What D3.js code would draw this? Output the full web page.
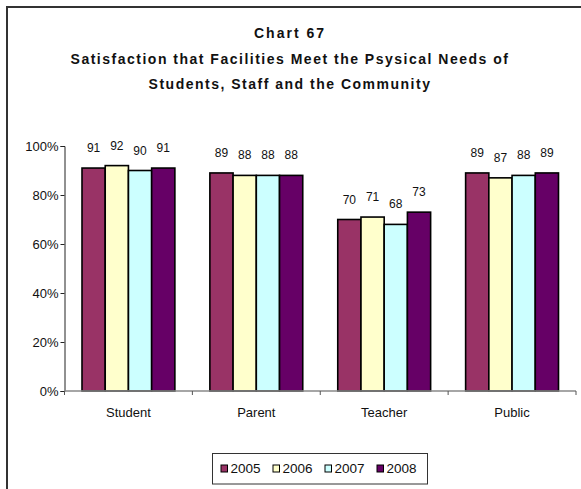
<!DOCTYPE html>
<html>
<head>
<meta charset="utf-8">
<script src="https://cdn.jsdelivr.net/npm/d3@7"></script>
<style>
  html, body { margin: 0; padding: 0; background: #fff; }
  svg { display: block; font-family: "Liberation Sans", Arial, sans-serif; }
</style>
</head>
<body>
<svg id="chart" width="581" height="489"></svg>
<script>
const categories = ["Student", "Parent", "Teacher", "Public"];
const seriesNames = ["2005", "2006", "2007", "2008"];
const values2005 = [91, 89, 70, 89];
const values2006 = [92, 88, 71, 87];
const values2007 = [90, 88, 68, 88];
const values2008 = [91, 88, 73, 89];
const yTicks = [0, 20, 40, 60, 80, 100];
const titleLines = [
  "Chart 67",
  "Satisfaction that Facilities Meet the Psysical Needs of",
  "Students, Staff and the Community"
];
const colors = ["#993366", "#FFFFCC", "#CCFFFF", "#660066"];

const seriesValues = [values2005, values2006, values2007, values2008];

(function () {
const svg = d3.select("#chart");

// outer frame (right/bottom edges fall off the canvas)
svg.append("rect")
  .attr("x", 7).attr("y", 7).attr("width", 640).attr("height", 640)
  .attr("fill", "none").attr("stroke", "#333").attr("stroke-width", 2);

// title
const title = svg.append("g").attr("font-weight", "bold").attr("font-size", 14)
  .attr("text-anchor", "middle").attr("fill", "#111");
titleLines.forEach((t, i) => {
  title.append("text").attr("x", 290).attr("y", 38 + i * 25.5)
    .attr("letter-spacing", i === 0 ? 2 : 1.5).text(t);
});

const pLeft = 64.5, pRight = 576, pTop = 146, pBottom = 391;

const x0 = d3.scaleBand().domain(categories).range([pLeft, pRight]).padding(0);
const x1 = d3.scaleBand().domain(seriesNames)
  .range([17.5, x0.bandwidth() - 17.5]).padding(0);
const y = d3.scaleLinear().domain([0, 100]).range([pBottom, pTop]);

// bars
const groups = svg.append("g").selectAll("g")
  .data(categories).join("g")
  .attr("transform", d => `translate(${x0(d)},0)`);

groups.each(function (cat, ci) {
  const g = d3.select(this);
  seriesNames.forEach((s, si) => {
    const v = seriesValues[si][ci];
    g.append("rect")
      .attr("x", x1(s)).attr("y", y(v))
      .attr("width", x1.bandwidth()).attr("height", y(0) - y(v))
      .attr("fill", colors[si]).attr("stroke", "#000").attr("stroke-width", 1.6);
    g.append("text")
      .attr("x", x1(s) + x1.bandwidth() / 2).attr("y", y(v) - 16)
      .attr("text-anchor", "middle").attr("font-size", 12).attr("fill", "#111")
      .text(v);
  });
});

// y axis
const yAxis = svg.append("g").attr("transform", `translate(${pLeft},0)`)
  .call(d3.axisLeft(y).tickValues(yTicks).tickFormat(d => d + "%").tickSize(4).tickPadding(2));
yAxis.select(".domain").attr("stroke", "#222");
yAxis.selectAll(".tick line").attr("stroke", "#222");
yAxis.selectAll(".tick text").attr("font-size", 13).attr("fill", "#111")
  .attr("font-family", "Liberation Sans, Arial, sans-serif");

// x axis (ticks at band boundaries)
const xAxisG = svg.append("g");
xAxisG.append("line").attr("x1", pLeft).attr("x2", pRight).attr("y1", pBottom).attr("y2", pBottom)
  .attr("stroke", "#888").attr("stroke-width", 1.5);
const boundaries = categories.map(c => x0(c)).concat([x0(categories[categories.length - 1]) + x0.bandwidth()]);
xAxisG.selectAll("line.tk").data(boundaries).join("line").attr("class", "tk")
  .attr("x1", d => d).attr("x2", d => d).attr("y1", pBottom).attr("y2", pBottom + 4)
  .attr("stroke", "#555");
xAxisG.selectAll("text").data(categories).join("text")
  .attr("x", d => x0(d) + x0.bandwidth() / 2).attr("y", 416.5)
  .attr("text-anchor", "middle").attr("font-size", 13).attr("fill", "#111")
  .text(d => d);

// legend
const legend = svg.append("g");
legend.append("rect").attr("x", 212.5).attr("y", 453.5).attr("width", 215).attr("height", 30.5)
  .attr("fill", "#fff").attr("stroke", "#333").attr("stroke-width", 1);
seriesNames.forEach((s, i) => {
  const lx = 221 + i * 52;
  legend.append("rect").attr("x", lx).attr("y", 465).attr("width", 6.5).attr("height", 7)
    .attr("fill", colors[i]).attr("stroke", "#000").attr("stroke-width", 1);
  legend.append("text").attr("x", lx + 9.5).attr("y", 473)
    .attr("font-size", 13.5).attr("fill", "#111").text(s);
});
})();
</script>
</body>
</html>
